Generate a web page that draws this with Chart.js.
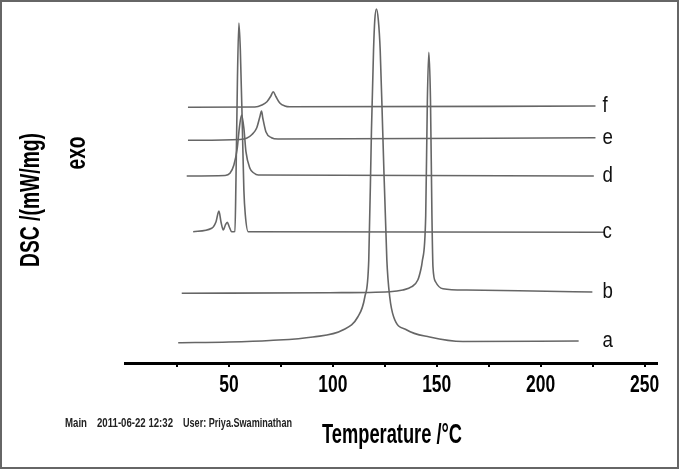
<!DOCTYPE html>
<html>
<head>
<meta charset="utf-8">
<script src="https://cdn.jsdelivr.net/npm/chart.js@4/dist/chart.umd.min.js"></script>
<style>
  html, body { margin: 0; padding: 0; background: #fff; }
  #wrap { width: 680px; height: 470px; }
</style>
</head>
<body>
<div id="wrap"><canvas id="c" width="680" height="470"></canvas></div>
<script>
// ---- Data (temperature in °C, DSC signal in mW/mg, curves offset vertically) ----
const curveNames = ['a', 'b', 'c', 'd', 'e', 'f'];

const tempA = [25.6, 50.0, 69.7, 90.4, 104.8, 112.0, 115.4, 117.3, 118.6, 119.6, 120.2, 121.0, 121.9, 122.8, 124.0, 126.0, 127.4, 129.3, 135.6, 146.6, 162.5, 218.3];
const dscA  = [0.203, 0.21, 0.225, 0.26, 0.33, 0.46, 0.66, 1.03, 2.33, 3.13, 3.43, 3.54, 3.43, 3.13, 2.33, 1.03, 0.66, 0.46, 0.33, 0.26, 0.215, 0.22];

const tempB = [27.3, 98.6, 127.4, 133.7, 138.0, 140.9, 142.3, 143.0, 144.7, 145.5, 146.2, 147.0, 147.7, 148.2, 149.5, 153.0, 164.3, 196.2, 224.9];
const dscB  = [0.697, 0.703, 0.713, 0.73, 0.763, 0.83, 0.93, 1.01, 1.47, 2.63, 3.107, 2.63, 1.47, 0.96, 0.81, 0.743, 0.73, 0.72, 0.71];

const tempC = [32.8, 41.7, 43.8, 45.2, 46.2, 47.3, 48.3, 49.2, 50.2, 51.3, 52.9, 53.4, 54.1, 54.8, 55.5, 56.5, 57.2, 57.9, 59.3, 230.8];
const dscC  = [1.313, 1.347, 1.413, 1.52, 1.41, 1.33, 1.38, 1.407, 1.36, 1.313, 1.315, 1.83, 2.83, 3.40, 3.13, 2.33, 1.73, 1.48, 1.313, 1.307];

const tempD = [29.7, 48.1, 50.5, 52.4, 54.0, 55.0, 56.1, 57.2, 58.2, 60.1, 62.0, 64.1, 225.6];
const dscD  = [1.87, 1.875, 1.897, 1.98, 2.147, 2.347, 2.48, 2.35, 2.113, 1.947, 1.90, 1.88, 1.87];

const tempE = [30.3, 55.3, 58.5, 61.1, 63.3, 64.9, 65.7, 66.3, 67.8, 70.5, 73.6, 226.4];
const dscE  = [2.227, 2.235, 2.247, 2.285, 2.347, 2.463, 2.52, 2.45, 2.313, 2.253, 2.24, 2.253];

const tempF = [30.3, 62.5, 65.9, 68.3, 70.2, 71.3, 72.6, 74.5, 76.9, 79.3, 226.4];
const dscF  = [2.557, 2.56, 2.58, 2.613, 2.67, 2.713, 2.665, 2.60, 2.57, 2.562, 2.57];

const xTickMarks  = [25, 50, 75, 100, 125, 150, 175, 200, 225, 250];
const xTickLabels = ['50', '100', '150', '200', '250'];

const xTitle = 'Temperature /°C';
const yTitle = 'DSC /(mW/mg)';
const exoText = 'exo';
const footerParts = ['Main', '2011-06-22 12:32', 'User: Priya.Swaminathan'];

// ---- Build datasets ----
const temps = [tempA, tempB, tempC, tempD, tempE, tempF];
const dscs  = [dscA, dscB, dscC, dscD, dscE, dscF];
const datasets = curveNames.map((name, k) => ({
  label: name,
  data: temps[k].map((t, i) => ({ x: t, y: dscs[k][i] })),
  borderColor: '#666666',
  borderWidth: 1.6,
  pointRadius: 0,
  fill: false,
  cubicInterpolationMode: 'monotone'
}));

const FONT = "'Liberation Sans', Arial, sans-serif";

function drawText(ctx, s, x, y, font, opts) {
  const o = Object.assign({ rot: 0, align: 'left', baseline: 'alphabetic', sx: 1, width: null, color: '#000' }, opts || {});
  ctx.save();
  ctx.font = font;
  let sx = o.sx;
  if (o.width) sx = o.width / ctx.measureText(s).width;
  ctx.translate(x, y);
  if (o.rot) ctx.rotate(o.rot);
  ctx.scale(sx, 1);
  ctx.fillStyle = o.color;
  ctx.textAlign = o.align;
  ctx.textBaseline = o.baseline;
  ctx.fillText(s, 0, 0);
  ctx.restore();
}

const decor = {
  id: 'decor',
  beforeDraw(chart) {
    const ctx = chart.ctx;
    ctx.save();
    ctx.fillStyle = '#fff';
    ctx.fillRect(0, 0, chart.width, chart.height);
    ctx.strokeStyle = '#666';
    ctx.lineWidth = 2;
    ctx.strokeRect(1, 1, chart.width - 3, chart.height - 3);
    ctx.restore();
  },
  afterDraw(chart) {
    const ctx = chart.ctx;
    const xs = chart.scales.x, ys = chart.scales.y;
    const area = chart.chartArea;
    // tick labels
    xTickLabels.forEach(lbl => {
      const px = xs.getPixelForValue(Number(lbl));
      drawText(ctx, lbl, px, area.bottom + 29, 'bold 23px ' + FONT, { align: 'center', sx: 0.76 });
    });
    // x title
    drawText(ctx, xTitle, 392, 443, 'bold 28px ' + FONT, { align: 'center', width: 140 });
    // y title and exo (rotated)
    drawText(ctx, yTitle, 39, 200, 'bold 27px ' + FONT, { align: 'center', rot: -Math.PI / 2, width: 134 });
    drawText(ctx, exoText, 85, 153, 'bold 27px ' + FONT, { align: 'center', rot: -Math.PI / 2, width: 33 });
    // footer
    const fx = [65, 97, 183], fw = [22, 76, 109];
    footerParts.forEach((p, i) => {
      drawText(ctx, p, fx[i], 427, 'bold 12px ' + FONT, { width: fw[i], color: '#222' });
    });
    // curve labels
    curveNames.forEach((name, k) => {
      const arrV = dscs[k];
      const py = ys.getPixelForValue(arrV[arrV.length - 1]);
      drawText(ctx, name, xs.getPixelForValue(229.8), py, '22px ' + FONT, { baseline: 'middle', sx: 0.85, color: '#111' });
    });
  }
};

new Chart(document.getElementById('c'), {
  type: 'line',
  data: { datasets },
  options: {
    responsive: false,
    animation: false,
    devicePixelRatio: 1,
    layout: { padding: { left: 125, right: 23, top: 3, bottom: 0 } },
    plugins: { legend: { display: false }, tooltip: { enabled: false }, title: { display: false } },
    scales: {
      x: {
        type: 'linear',
        min: 0,
        max: 256,
        afterBuildTicks: (s) => { s.ticks = xTickMarks.map(v => ({ value: v })); },
        afterFit: (s) => { s.height = 107; },
        ticks: { display: false },
        grid: { display: true, drawOnChartArea: false, drawTicks: true, tickLength: 4, color: '#000', lineWidth: 2 },
        border: { display: true, color: '#000', width: 3 },
        title: { display: false }
      },
      y: {
        type: 'linear',
        min: 0,
        max: 3.6,
        display: false
      }
    }
  },
  plugins: [decor]
});
</script>
</body>
</html>
